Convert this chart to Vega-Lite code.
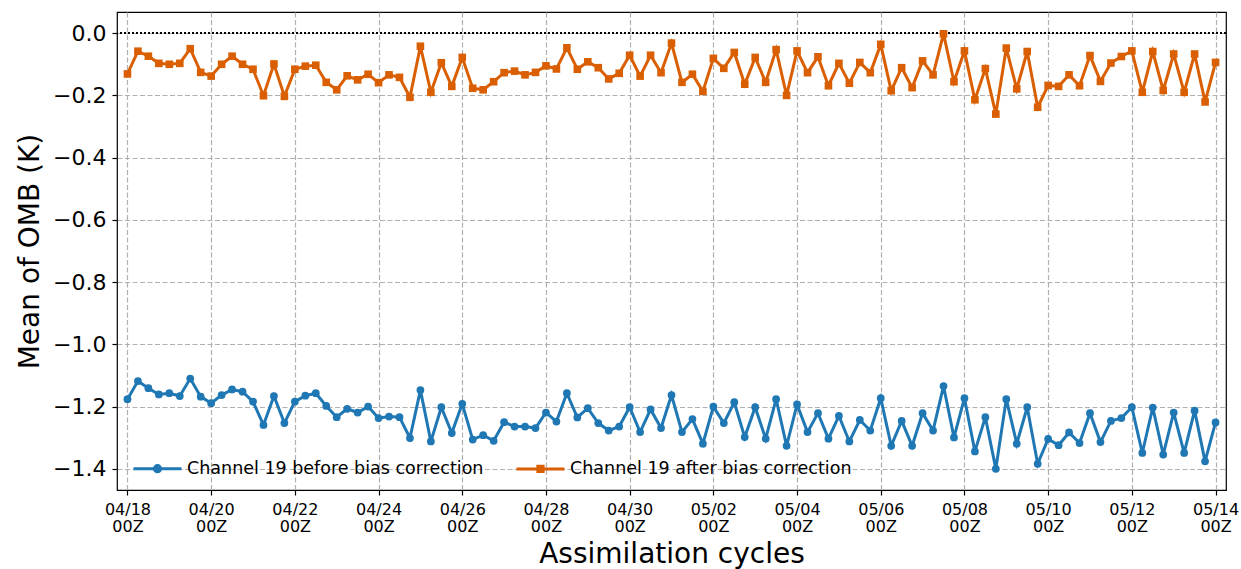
{
  "$schema": "https://vega.github.io/schema/vega-lite/v6.json",
  "width": 1109,
  "height": 478,
  "autosize": {"type": "none"},
  "padding": {"left": 117, "top": 12, "right": 15, "bottom": 79},
  "background": "white",
  "data": {"values": [
    {"t":"2024-04-18T00:00Z","s":"before","v":-1.176},{"t":"2024-04-18T06:00Z","s":"before","v":-1.118},{"t":"2024-04-18T12:00Z","s":"before","v":-1.141},{"t":"2024-04-18T18:00Z","s":"before","v":-1.161},
    {"t":"2024-04-19T00:00Z","s":"before","v":-1.157},{"t":"2024-04-19T06:00Z","s":"before","v":-1.166},{"t":"2024-04-19T12:00Z","s":"before","v":-1.110},{"t":"2024-04-19T18:00Z","s":"before","v":-1.168},
    {"t":"2024-04-20T00:00Z","s":"before","v":-1.189},{"t":"2024-04-20T06:00Z","s":"before","v":-1.163},{"t":"2024-04-20T12:00Z","s":"before","v":-1.145},{"t":"2024-04-20T18:00Z","s":"before","v":-1.152},
    {"t":"2024-04-21T00:00Z","s":"before","v":-1.184},{"t":"2024-04-21T06:00Z","s":"before","v":-1.259},{"t":"2024-04-21T12:00Z","s":"before","v":-1.166},{"t":"2024-04-21T18:00Z","s":"before","v":-1.253},
    {"t":"2024-04-22T00:00Z","s":"before","v":-1.184},{"t":"2024-04-22T06:00Z","s":"before","v":-1.165},{"t":"2024-04-22T12:00Z","s":"before","v":-1.157},{"t":"2024-04-22T18:00Z","s":"before","v":-1.198},
    {"t":"2024-04-23T00:00Z","s":"before","v":-1.234},{"t":"2024-04-23T06:00Z","s":"before","v":-1.207},{"t":"2024-04-23T12:00Z","s":"before","v":-1.219},{"t":"2024-04-23T18:00Z","s":"before","v":-1.200},
    {"t":"2024-04-24T00:00Z","s":"before","v":-1.237},{"t":"2024-04-24T06:00Z","s":"before","v":-1.232},{"t":"2024-04-24T12:00Z","s":"before","v":-1.234},{"t":"2024-04-24T18:00Z","s":"before","v":-1.301},
    {"t":"2024-04-25T00:00Z","s":"before","v":-1.147},{"t":"2024-04-25T06:00Z","s":"before","v":-1.312},{"t":"2024-04-25T12:00Z","s":"before","v":-1.202},{"t":"2024-04-25T18:00Z","s":"before","v":-1.285},
    {"t":"2024-04-26T00:00Z","s":"before","v":-1.191},{"t":"2024-04-26T06:00Z","s":"before","v":-1.306},{"t":"2024-04-26T12:00Z","s":"before","v":-1.292},{"t":"2024-04-26T18:00Z","s":"before","v":-1.310},
    {"t":"2024-04-27T00:00Z","s":"before","v":-1.250},{"t":"2024-04-27T06:00Z","s":"before","v":-1.264},{"t":"2024-04-27T12:00Z","s":"before","v":-1.264},{"t":"2024-04-27T18:00Z","s":"before","v":-1.269},
    {"t":"2024-04-28T00:00Z","s":"before","v":-1.219},{"t":"2024-04-28T06:00Z","s":"before","v":-1.248},{"t":"2024-04-28T12:00Z","s":"before","v":-1.157},{"t":"2024-04-28T18:00Z","s":"before","v":-1.235},
    {"t":"2024-04-29T00:00Z","s":"before","v":-1.205},{"t":"2024-04-29T06:00Z","s":"before","v":-1.253},{"t":"2024-04-29T12:00Z","s":"before","v":-1.277},{"t":"2024-04-29T18:00Z","s":"before","v":-1.264},
    {"t":"2024-04-30T00:00Z","s":"before","v":-1.202},{"t":"2024-04-30T06:00Z","s":"before","v":-1.282},{"t":"2024-04-30T12:00Z","s":"before","v":-1.209},{"t":"2024-04-30T18:00Z","s":"before","v":-1.269},
    {"t":"2024-05-01T00:00Z","s":"before","v":-1.163},{"t":"2024-05-01T06:00Z","s":"before","v":-1.282},{"t":"2024-05-01T12:00Z","s":"before","v":-1.240},{"t":"2024-05-01T18:00Z","s":"before","v":-1.319},
    {"t":"2024-05-02T00:00Z","s":"before","v":-1.200},{"t":"2024-05-02T06:00Z","s":"before","v":-1.253},{"t":"2024-05-02T12:00Z","s":"before","v":-1.186},{"t":"2024-05-02T18:00Z","s":"before","v":-1.298},
    {"t":"2024-05-03T00:00Z","s":"before","v":-1.202},{"t":"2024-05-03T06:00Z","s":"before","v":-1.303},{"t":"2024-05-03T12:00Z","s":"before","v":-1.176},{"t":"2024-05-03T18:00Z","s":"before","v":-1.326},
    {"t":"2024-05-04T00:00Z","s":"before","v":-1.193},{"t":"2024-05-04T06:00Z","s":"before","v":-1.282},{"t":"2024-05-04T12:00Z","s":"before","v":-1.221},{"t":"2024-05-04T18:00Z","s":"before","v":-1.303},
    {"t":"2024-05-05T00:00Z","s":"before","v":-1.230},{"t":"2024-05-05T06:00Z","s":"before","v":-1.312},{"t":"2024-05-05T12:00Z","s":"before","v":-1.243},{"t":"2024-05-05T18:00Z","s":"before","v":-1.277},
    {"t":"2024-05-06T00:00Z","s":"before","v":-1.173},{"t":"2024-05-06T06:00Z","s":"before","v":-1.326},{"t":"2024-05-06T12:00Z","s":"before","v":-1.246},{"t":"2024-05-06T18:00Z","s":"before","v":-1.326},
    {"t":"2024-05-07T00:00Z","s":"before","v":-1.221},{"t":"2024-05-07T06:00Z","s":"before","v":-1.277},{"t":"2024-05-07T12:00Z","s":"before","v":-1.134},{"t":"2024-05-07T18:00Z","s":"before","v":-1.299},
    {"t":"2024-05-08T00:00Z","s":"before","v":-1.173},{"t":"2024-05-08T06:00Z","s":"before","v":-1.344},{"t":"2024-05-08T12:00Z","s":"before","v":-1.234},{"t":"2024-05-08T18:00Z","s":"before","v":-1.400},
    {"t":"2024-05-09T00:00Z","s":"before","v":-1.176},{"t":"2024-05-09T06:00Z","s":"before","v":-1.319},{"t":"2024-05-09T12:00Z","s":"before","v":-1.202},{"t":"2024-05-09T18:00Z","s":"before","v":-1.384},
    {"t":"2024-05-10T00:00Z","s":"before","v":-1.304},{"t":"2024-05-10T06:00Z","s":"before","v":-1.324},{"t":"2024-05-10T12:00Z","s":"before","v":-1.283},{"t":"2024-05-10T18:00Z","s":"before","v":-1.317},
    {"t":"2024-05-11T00:00Z","s":"before","v":-1.221},{"t":"2024-05-11T06:00Z","s":"before","v":-1.314},{"t":"2024-05-11T12:00Z","s":"before","v":-1.246},{"t":"2024-05-11T18:00Z","s":"before","v":-1.237},
    {"t":"2024-05-12T00:00Z","s":"before","v":-1.202},{"t":"2024-05-12T06:00Z","s":"before","v":-1.349},{"t":"2024-05-12T12:00Z","s":"before","v":-1.203},{"t":"2024-05-12T18:00Z","s":"before","v":-1.354},
    {"t":"2024-05-13T00:00Z","s":"before","v":-1.219},{"t":"2024-05-13T06:00Z","s":"before","v":-1.349},{"t":"2024-05-13T12:00Z","s":"before","v":-1.213},{"t":"2024-05-13T18:00Z","s":"before","v":-1.376},
    {"t":"2024-05-14T00:00Z","s":"before","v":-1.251},
    {"t":"2024-04-18T00:00Z","s":"after","v":-0.131},{"t":"2024-04-18T06:00Z","s":"after","v":-0.058},{"t":"2024-04-18T12:00Z","s":"after","v":-0.074},{"t":"2024-04-18T18:00Z","s":"after","v":-0.097},
    {"t":"2024-04-19T00:00Z","s":"after","v":-0.100},{"t":"2024-04-19T06:00Z","s":"after","v":-0.097},{"t":"2024-04-19T12:00Z","s":"after","v":-0.050},{"t":"2024-04-19T18:00Z","s":"after","v":-0.126},
    {"t":"2024-04-20T00:00Z","s":"after","v":-0.138},{"t":"2024-04-20T06:00Z","s":"after","v":-0.100},{"t":"2024-04-20T12:00Z","s":"after","v":-0.074},{"t":"2024-04-20T18:00Z","s":"after","v":-0.100},
    {"t":"2024-04-21T00:00Z","s":"after","v":-0.116},{"t":"2024-04-21T06:00Z","s":"after","v":-0.201},{"t":"2024-04-21T12:00Z","s":"after","v":-0.099},{"t":"2024-04-21T18:00Z","s":"after","v":-0.203},
    {"t":"2024-04-22T00:00Z","s":"after","v":-0.116},{"t":"2024-04-22T06:00Z","s":"after","v":-0.106},{"t":"2024-04-22T12:00Z","s":"after","v":-0.103},{"t":"2024-04-22T18:00Z","s":"after","v":-0.158},
    {"t":"2024-04-23T00:00Z","s":"after","v":-0.182},{"t":"2024-04-23T06:00Z","s":"after","v":-0.137},{"t":"2024-04-23T12:00Z","s":"after","v":-0.150},{"t":"2024-04-23T18:00Z","s":"after","v":-0.132},
    {"t":"2024-04-24T00:00Z","s":"after","v":-0.159},{"t":"2024-04-24T06:00Z","s":"after","v":-0.134},{"t":"2024-04-24T12:00Z","s":"after","v":-0.142},{"t":"2024-04-24T18:00Z","s":"after","v":-0.206},
    {"t":"2024-04-25T00:00Z","s":"after","v":-0.042},{"t":"2024-04-25T06:00Z","s":"after","v":-0.190},{"t":"2024-04-25T12:00Z","s":"after","v":-0.095},{"t":"2024-04-25T18:00Z","s":"after","v":-0.171},
    {"t":"2024-04-26T00:00Z","s":"after","v":-0.078},{"t":"2024-04-26T06:00Z","s":"after","v":-0.177},{"t":"2024-04-26T12:00Z","s":"after","v":-0.182},{"t":"2024-04-26T18:00Z","s":"after","v":-0.156},
    {"t":"2024-04-27T00:00Z","s":"after","v":-0.127},{"t":"2024-04-27T06:00Z","s":"after","v":-0.122},{"t":"2024-04-27T12:00Z","s":"after","v":-0.134},{"t":"2024-04-27T18:00Z","s":"after","v":-0.126},
    {"t":"2024-04-28T00:00Z","s":"after","v":-0.105},{"t":"2024-04-28T06:00Z","s":"after","v":-0.115},{"t":"2024-04-28T12:00Z","s":"after","v":-0.047},{"t":"2024-04-28T18:00Z","s":"after","v":-0.116},
    {"t":"2024-04-29T00:00Z","s":"after","v":-0.092},{"t":"2024-04-29T06:00Z","s":"after","v":-0.111},{"t":"2024-04-29T12:00Z","s":"after","v":-0.147},{"t":"2024-04-29T18:00Z","s":"after","v":-0.129},
    {"t":"2024-04-30T00:00Z","s":"after","v":-0.071},{"t":"2024-04-30T06:00Z","s":"after","v":-0.138},{"t":"2024-04-30T12:00Z","s":"after","v":-0.071},{"t":"2024-04-30T18:00Z","s":"after","v":-0.127},
    {"t":"2024-05-01T00:00Z","s":"after","v":-0.032},{"t":"2024-05-01T06:00Z","s":"after","v":-0.158},{"t":"2024-05-01T12:00Z","s":"after","v":-0.132},{"t":"2024-05-01T18:00Z","s":"after","v":-0.187},
    {"t":"2024-05-02T00:00Z","s":"after","v":-0.081},{"t":"2024-05-02T06:00Z","s":"after","v":-0.113},{"t":"2024-05-02T12:00Z","s":"after","v":-0.062},{"t":"2024-05-02T18:00Z","s":"after","v":-0.164},
    {"t":"2024-05-03T00:00Z","s":"after","v":-0.078},{"t":"2024-05-03T06:00Z","s":"after","v":-0.158},{"t":"2024-05-03T12:00Z","s":"after","v":-0.053},{"t":"2024-05-03T18:00Z","s":"after","v":-0.200},
    {"t":"2024-05-04T00:00Z","s":"after","v":-0.057},{"t":"2024-05-04T06:00Z","s":"after","v":-0.127},{"t":"2024-05-04T12:00Z","s":"after","v":-0.076},{"t":"2024-05-04T18:00Z","s":"after","v":-0.169},
    {"t":"2024-05-05T00:00Z","s":"after","v":-0.097},{"t":"2024-05-05T06:00Z","s":"after","v":-0.161},{"t":"2024-05-05T12:00Z","s":"after","v":-0.094},{"t":"2024-05-05T18:00Z","s":"after","v":-0.127},
    {"t":"2024-05-06T00:00Z","s":"after","v":-0.036},{"t":"2024-05-06T06:00Z","s":"after","v":-0.185},{"t":"2024-05-06T12:00Z","s":"after","v":-0.111},{"t":"2024-05-06T18:00Z","s":"after","v":-0.175},
    {"t":"2024-05-07T00:00Z","s":"after","v":-0.089},{"t":"2024-05-07T06:00Z","s":"after","v":-0.134},{"t":"2024-05-07T12:00Z","s":"after","v":-0.002},{"t":"2024-05-07T18:00Z","s":"after","v":-0.156},
    {"t":"2024-05-08T00:00Z","s":"after","v":-0.057},{"t":"2024-05-08T06:00Z","s":"after","v":-0.214},{"t":"2024-05-08T12:00Z","s":"after","v":-0.114},{"t":"2024-05-08T18:00Z","s":"after","v":-0.260},
    {"t":"2024-05-09T00:00Z","s":"after","v":-0.048},{"t":"2024-05-09T06:00Z","s":"after","v":-0.179},{"t":"2024-05-09T12:00Z","s":"after","v":-0.059},{"t":"2024-05-09T18:00Z","s":"after","v":-0.238},
    {"t":"2024-05-10T00:00Z","s":"after","v":-0.168},{"t":"2024-05-10T06:00Z","s":"after","v":-0.171},{"t":"2024-05-10T12:00Z","s":"after","v":-0.134},{"t":"2024-05-10T18:00Z","s":"after","v":-0.169},
    {"t":"2024-05-11T00:00Z","s":"after","v":-0.072},{"t":"2024-05-11T06:00Z","s":"after","v":-0.155},{"t":"2024-05-11T12:00Z","s":"after","v":-0.096},{"t":"2024-05-11T18:00Z","s":"after","v":-0.075},
    {"t":"2024-05-12T00:00Z","s":"after","v":-0.057},{"t":"2024-05-12T06:00Z","s":"after","v":-0.190},{"t":"2024-05-12T12:00Z","s":"after","v":-0.059},{"t":"2024-05-12T18:00Z","s":"after","v":-0.184},
    {"t":"2024-05-13T00:00Z","s":"after","v":-0.067},{"t":"2024-05-13T06:00Z","s":"after","v":-0.190},{"t":"2024-05-13T12:00Z","s":"after","v":-0.067},{"t":"2024-05-13T18:00Z","s":"after","v":-0.221},
    {"t":"2024-05-14T00:00Z","s":"after","v":-0.094}
  ]},
  "encoding": {
    "x": {
      "field": "t", "type": "temporal",
      "scale": {"type": "utc", "domain": [{"year": 2024, "month": 4, "date": 17, "hours": 18, "utc": true}, {"year": 2024, "month": 5, "date": 14, "hours": 6, "utc": true}], "nice": false},
      "axis": {
        "values": [
          {"year": 2024, "month": 4, "date": 18, "utc": true}, {"year": 2024, "month": 4, "date": 20, "utc": true},
          {"year": 2024, "month": 4, "date": 22, "utc": true}, {"year": 2024, "month": 4, "date": 24, "utc": true},
          {"year": 2024, "month": 4, "date": 26, "utc": true}, {"year": 2024, "month": 4, "date": 28, "utc": true},
          {"year": 2024, "month": 4, "date": 30, "utc": true}, {"year": 2024, "month": 5, "date": 2, "utc": true},
          {"year": 2024, "month": 5, "date": 4, "utc": true}, {"year": 2024, "month": 5, "date": 6, "utc": true},
          {"year": 2024, "month": 5, "date": 8, "utc": true}, {"year": 2024, "month": 5, "date": 10, "utc": true},
          {"year": 2024, "month": 5, "date": 12, "utc": true}, {"year": 2024, "month": 5, "date": 14, "utc": true}
        ],
        "labelExpr": "[utcFormat(datum.value, '%m/%d'), utcFormat(datum.value, '%HZ')]",
        "labelFontSize": 16,
        "labelLineHeight": 17,
        "labelPadding": 6,
        "labelFlush": false,
        "labelOverlap": false,
        "title": "Assimilation cycles",
        "titleFontSize": 28,
        "titlePadding": 6
      }
    },
    "y": {
      "field": "v", "type": "quantitative",
      "scale": {"domain": [-1.468, 0.068], "nice": false, "zero": false},
      "axis": {
        "values": [-1.4, -1.2, -1.0, -0.8, -0.6, -0.4, -0.2, 0.0],
        "format": ".1f",
        "labelFontSize": 22,
        "labelPadding": 6,
        "title": "Mean of OMB (K)",
        "titleFontSize": 28,
        "titlePadding": 8
      }
    }
  },
  "layer": [
    {
      "mark": {"type": "rule", "color": "black", "strokeDash": [1.5, 2.5], "strokeWidth": 1.6},
      "encoding": {"y": {"datum": 0}, "x": null}
    },
    {
      "mark": {"type": "line", "strokeWidth": 3},
      "encoding": {
        "color": {
          "field": "s", "type": "nominal",
          "scale": {"domain": ["before", "after"], "range": ["#1f77b4", "#d95f02"]},
          "legend": {
            "orient": "none",
            "legendX": 15,
            "legendY": 431,
            "direction": "horizontal",
            "title": null,
            "padding": 0,
            "symbolSize": 2304,
            "symbolStrokeWidth": 3,
            "labelOffset": 4,
            "labelLimit": 600,
            "columnPadding": 26,
            "labelFontSize": 17.5,
            "labelFont": "DejaVu Sans",
            "labelColor": "black",
            "labelExpr": "'Channel 19 ' + datum.label + ' bias correction'",
            "encode": {
              "symbols": {
                "update": {
                  "shape": {"signal": "datum.value == 'before' ? 'M-1,0H1M0.13,0A0.13,0.13,0,1,1,-0.13,0A0.13,0.13,0,1,1,0.13,0Z' : 'M-1,0H1M-0.11,-0.11H0.11V0.11H-0.11Z'"},
                  "fill": {"signal": "datum.value == 'before' ? '#1f77b4' : '#d95f02'"},
                  "stroke": {"signal": "datum.value == 'before' ? '#1f77b4' : '#d95f02'"},
                  "strokeWidth": {"value": 3}
                }
              }
            }
          }
        }
      }
    },
    {
      "transform": [{"filter": "datum.s == 'before'"}],
      "mark": {"type": "point", "shape": "circle", "filled": true, "opacity": 1, "size": 60},
      "encoding": {"color": {"field": "s", "type": "nominal", "legend": null}}
    },
    {
      "transform": [{"filter": "datum.s == 'after'"}],
      "mark": {"type": "point", "shape": "square", "filled": true, "opacity": 1, "size": 58},
      "encoding": {"color": {"field": "s", "type": "nominal", "legend": null}}
    }
  ],
  "config": {
    "view": {"stroke": "black", "strokeWidth": 1.2},
    "axis": {
      "domain": false,
      "grid": true,
      "gridColor": "#b0b0b0",
      "gridDash": [5, 2.5],
      "gridWidth": 1.2,
      "tickColor": "black",
      "tickSize": 5,
      "tickWidth": 1.2,
      "labelFont": "DejaVu Sans",
      "labelColor": "black",
      "titleFont": "DejaVu Sans",
      "titleFontWeight": "normal",
      "titleColor": "black"
    }
  }
}
